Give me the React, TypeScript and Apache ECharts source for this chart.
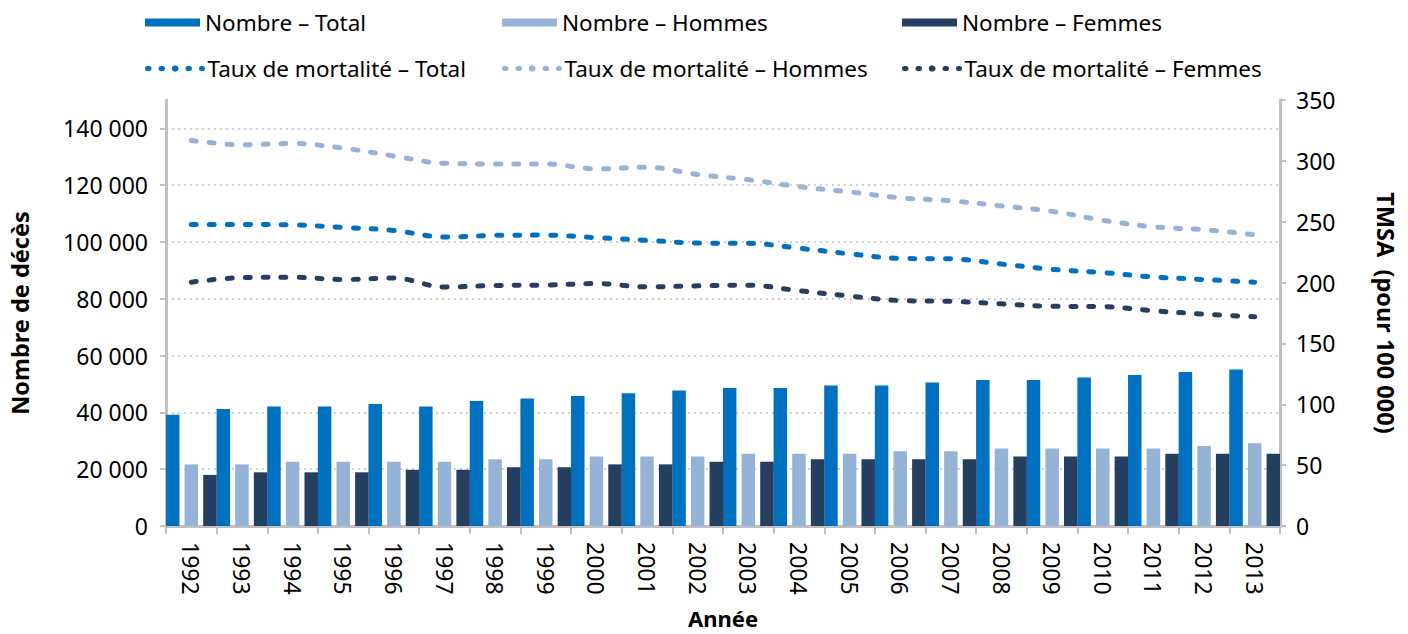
import React, { useEffect, useRef } from "react";
import * as echarts from "echarts";

const years = ["1992","1993","1994","1995","1996","1997","1998","1999","2000","2001","2002","2003","2004","2005","2006","2007","2008","2009","2010","2011","2012","2013"];

const nombreTotal = [39200, 41200, 42100, 42100, 43000, 42100, 44000, 44900, 45800, 46700, 47700, 48600, 48600, 49500, 49500, 50500, 51400, 51400, 52300, 53200, 54200, 55100];
const nombreHommes = [21700, 21700, 22600, 22600, 22600, 22600, 23500, 23500, 24500, 24500, 24500, 25400, 25400, 25400, 26300, 26300, 27300, 27300, 27300, 27300, 28200, 29100];
const nombreFemmes = [18000, 18900, 18900, 18900, 19800, 19800, 20700, 20700, 21700, 21700, 22600, 22600, 23500, 23500, 23500, 23500, 24500, 24500, 24500, 25400, 25400, 25400];

const tauxTotal = [247.7, 247.7, 247.4, 245.3, 242.8, 237.4, 238.8, 239.0, 236.9, 234.7, 232.5, 232.3, 228.2, 223.6, 219.8, 219.5, 215.2, 210.9, 208.2, 204.6, 202.5, 200.3];
const tauxHommes = [316.7, 313.2, 314.3, 310.5, 304.0, 298.0, 297.5, 297.5, 293.4, 294.8, 288.8, 284.5, 278.8, 274.5, 269.6, 267.2, 262.9, 258.5, 251.2, 245.8, 243.4, 239.3];
const tauxFemmes = [200.3, 204.1, 204.4, 202.5, 203.8, 196.3, 197.6, 197.9, 199.2, 196.5, 197.3, 197.9, 193.3, 188.9, 185.2, 184.6, 182.5, 180.5, 180.3, 176.8, 174.1, 171.9];

const seriesNames = [
  "Nombre – Total",
  "Nombre – Hommes",
  "Nombre – Femmes",
  "Taux de mortalité – Total",
  "Taux de mortalité – Hommes",
  "Taux de mortalité – Femmes",
];

const leftAxisTitle = "Nombre de décès";
const rightAxisTitle = "TMSA  (pour 100 000)";
const xAxisTitle = "Année";

const C_TOTAL = "#0070C0";
const C_HOMMES = "#95B3D7";
const C_FEMMES = "#243F60";
const AXIS = "#BFBFBF";
const FONT = "'Noto Sans', sans-serif";

const fmt = (v: number) => String(v).replace(/\B(?=(\d{3})+(?!\d))/g, " ");

export default function App() {
  const ref = useRef<HTMLDivElement>(null);
  useEffect(() => {
    document.body.style.margin = "0";
    const chart = echarts.init(ref.current!, null, { renderer: "svg" });
    const legendPos = [
      [140, 6], [497, 6], [897, 6],
      [140, 52], [497, 52], [897, 52],
    ];
    const legends = seriesNames.map((n, i) => ({
      data: [n],
      left: legendPos[i][0],
      top: legendPos[i][1],
      itemWidth: 55,
      itemHeight: 8,
      icon: i < 3 ? "rect" : undefined,
      lineStyle: i < 3 ? undefined : { width: 5, type: [1.5, 12], cap: "round" },
      textStyle: { fontSize: 22.5, color: "#000", fontFamily: FONT },
      selectedMode: false,
    }));
    const barColors = [C_TOTAL, C_HOMMES, C_FEMMES];
    const barData = [nombreTotal, nombreHommes, nombreFemmes];
    const lineData = [tauxTotal, tauxHommes, tauxFemmes];
    const splitColors = ["#D0D0D0", "#D0D0D0", "#D0D0D0", "#D0D0D0", "#D0D0D0", "#D0D0D0", "#D0D0D0", "#D0D0D0", "rgba(0,0,0,0)"];
    chart.setOption({
      animation: false,
      textStyle: { fontFamily: FONT },
      legend: legends,
      grid: { left: 166, right: 128, top: 100, bottom: 103, containLabel: false },
      xAxis: {
        type: "category",
        data: years,
        boundaryGap: true,
        axisLine: { lineStyle: { color: AXIS, width: 3 } },
        axisTick: { show: true, length: 8, lineStyle: { color: AXIS, width: 2 } },
        axisLabel: { rotate: -90, margin: 16, fontSize: 23, color: "#000", fontFamily: FONT },
        name: xAxisTitle,
        nameLocation: "middle",
        nameGap: 81,
        nameTextStyle: { fontSize: 22, fontWeight: "bold", color: "#000", fontFamily: FONT },
      },
      yAxis: [
        {
          type: "value",
          min: 0,
          max: 150000,
          interval: 20000,
          axisLine: { show: true, lineStyle: { color: AXIS, width: 3 } },
          axisTick: { show: true, length: 6, lineStyle: { color: AXIS, width: 2 } },
          axisLabel: { showMaxLabel: false, margin: 18, fontSize: 23, color: "#000", fontFamily: FONT, formatter: (v: number) => fmt(v) },
          splitLine: { show: true, lineStyle: { color: splitColors, width: 2, type: [2, 4] } },
          name: leftAxisTitle,
          nameLocation: "middle",
          nameGap: 134,
          nameRotate: 90,
          nameTextStyle: { fontSize: 23.5, fontWeight: "bold", color: "#000", fontFamily: FONT },
        },
        {
          type: "value",
          min: 0,
          max: 350,
          interval: 50,
          position: "right",
          axisLine: { show: true, lineStyle: { color: AXIS, width: 3 } },
          axisTick: { show: true, length: 6, lineStyle: { color: AXIS, width: 2 } },
          axisLabel: { margin: 16, fontSize: 23, color: "#000", fontFamily: FONT },
          splitLine: { show: false },
          name: rightAxisTitle,
          nameLocation: "middle",
          nameGap: 94,
          nameRotate: -90,
          nameTextStyle: { fontSize: 23.5, fontWeight: "bold", color: "#000", fontFamily: FONT },
        },
      ],
      series: [
        ...barData.map((d, i) => ({
          name: seriesNames[i],
          type: "bar",
          data: d,
          barWidth: 13.5,
          barGap: "38%",
          itemStyle: { color: barColors[i] },
          z: 2,
        })),
        ...lineData.map((d, i) => ({
          name: seriesNames[i + 3],
          type: "line",
          yAxisIndex: 1,
          data: d,
          smooth: 0.35,
          symbol: "none",
          showSymbol: false,
          lineStyle: { color: barColors[i], width: 5, type: [5, 13], cap: "round" },
          itemStyle: { color: barColors[i] },
          z: 3,
        })),
      ],
    });
    return () => chart.dispose();
  }, []);
  return <div ref={ref} style={{ width: 1408, height: 634 }} />;
}
